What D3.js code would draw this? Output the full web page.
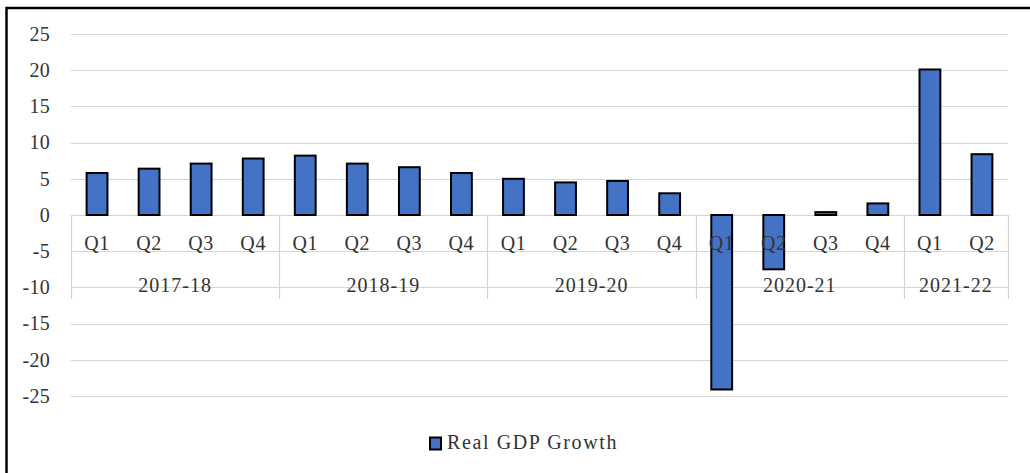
<!DOCTYPE html>
<html>
<head>
<meta charset="utf-8">
<script src="https://cdn.jsdelivr.net/npm/d3@7"></script>
<style>
  body { margin: 0; background: #fff; }
</style>
</head>
<body>
<div class="chart"></div>
<script>
// ------------------------------------------------------------------------------------------------------------------
// Data
var years    = ["2017-18", "2018-19", "2019-20", "2020-21", "2021-22"];
var quarters = ["Q1", "Q2", "Q3", "Q4", "Q1", "Q2", "Q3", "Q4", "Q1", "Q2", "Q3", "Q4", "Q1", "Q2", "Q3", "Q4", "Q1", "Q2"];
var yearOf   = [0, 0, 0, 0, 1, 1, 1, 1, 2, 2, 2, 2, 3, 3, 3, 3, 4, 4];
var growth   = [5.8, 6.4, 7.1, 7.8, 8.2, 7.1, 6.6, 5.8, 5.0, 4.5, 4.7, 3.0, -24.1, -7.5, 0.4, 1.6, 20.1, 8.4];
var yTicks   = [25, 20, 15, 10, 5, 0, -5, -10, -15, -20, -25];
var seriesName = "Real GDP Growth";

// ------------------------------------------------------------------------------------------------------------------
// Global var
var width = 1030,
  height = 473;
var left = 71, right = 1008;
var FONT = "'Liberation Serif', 'Times New Roman', 'DejaVu Serif', serif";
var INK = "#333";

var svg = d3.select(".chart").append("svg")
  .attr("width", width)
  .attr("height", height)
;

// outer frame (cropped at right and bottom)
svg.append("rect")
  .attr("x", 6.5)
  .attr("y", 8)
  .attr("width", 1100)
  .attr("height", 600)
  .attr("fill", "none")
  .attr("stroke", "#000")
  .attr("stroke-width", 2.5)
;

var x = d3.scaleBand()
  .domain(d3.range(growth.length))
  .range([left, right])
  .padding(0)
;

var y = d3.scaleLinear()
  .domain([-25, 25])
  .range([396, 34])
;

// ------------------------------------------------------------------------------------------------------------------
// Grid + y labels
svg.selectAll(".grid")
  .data(yTicks)
  .enter().append("line")
  .attr("class", "grid")
  .attr("x1", left)
  .attr("x2", right)
  .attr("y1", function(d) { return Math.round(y(d)) + 0.5; })
  .attr("y2", function(d) { return Math.round(y(d)) + 0.5; })
  .attr("stroke", "#d4d4d4")
  .attr("stroke-width", 1.2)
;

svg.selectAll(".ylab")
  .data(yTicks)
  .enter().append("text")
  .attr("class", "ylab")
  .attr("x", 50)
  .attr("y", function(d) { return y(d); })
  .attr("dy", "0.34em")
  .attr("text-anchor", "end")
  .attr("font-family", FONT)
  .attr("font-size", 20)
  .attr("fill", INK)
  .style("letter-spacing", "0.3px")
  .text(function(d) { return d; })
;

// ------------------------------------------------------------------------------------------------------------------
// Category axis dividers (two levels)
var yearStart = [];
for (var i = 0; i < yearOf.length; i++) {
  if (i == 0 || yearOf[i] != yearOf[i - 1]) yearStart.push(i);
}
var dividers = yearStart.map(function(i) { return x(i); });
dividers.push(right);

svg.selectAll(".divider")
  .data(dividers)
  .enter().append("line")
  .attr("class", "divider")
  .attr("x1", function(d) { return Math.round(d) + 0.5; })
  .attr("x2", function(d) { return Math.round(d) + 0.5; })
  .attr("y1", y(0))
  .attr("y2", 299)
  .attr("stroke", "#d4d4d4")
  .attr("stroke-width", 1.2)
;

// ------------------------------------------------------------------------------------------------------------------
// Bars
var barW = x.bandwidth() * 0.4;
svg.selectAll(".bar")
  .data(growth)
  .enter().append("rect")
  .attr("class", "bar")
  .attr("x", function(d, i) { return x(i) + (x.bandwidth() - barW) / 2; })
  .attr("y", function(d) { return y(Math.max(0, d)); })
  .attr("width", barW)
  .attr("height", function(d) { return Math.abs(y(d) - y(0)); })
  .attr("fill", "#4472C4")
  .attr("stroke", "#000")
  .attr("stroke-width", 2)
;

// ------------------------------------------------------------------------------------------------------------------
// Category labels (drawn over the bars, like the original)
svg.selectAll(".qlab")
  .data(quarters)
  .enter().append("text")
  .attr("class", "qlab")
  .attr("x", function(d, i) { return x(i) + x.bandwidth() / 2; })
  .attr("y", 250)
  .attr("text-anchor", "middle")
  .attr("font-family", FONT)
  .attr("font-size", 20)
  .attr("fill", INK)
  .style("letter-spacing", "0.6px")
  .text(function(d) { return d; })
;

svg.selectAll(".ylabel")
  .data(years)
  .enter().append("text")
  .attr("class", "ylabel")
  .attr("x", function(d, k) { return (dividers[k] + dividers[k + 1]) / 2; })
  .attr("y", 292)
  .attr("text-anchor", "middle")
  .attr("font-family", FONT)
  .attr("font-size", 20)
  .attr("fill", INK)
  .style("letter-spacing", "1px")
  .text(function(d) { return d; })
;

// ------------------------------------------------------------------------------------------------------------------
// Legend
var legend = svg.append("g").attr("class", "legend");
legend.append("rect")
  .attr("x", 430)
  .attr("y", 437.5)
  .attr("width", 11)
  .attr("height", 12)
  .attr("fill", "#4472C4")
  .attr("stroke", "#000")
  .attr("stroke-width", 2)
;
legend.append("text")
  .attr("x", 447)
  .attr("y", 449)
  .attr("font-family", FONT)
  .attr("font-size", 20)
  .attr("fill", INK)
  .style("letter-spacing", "1.6px")
  .text(seriesName)
;
</script>
</body>
</html>
